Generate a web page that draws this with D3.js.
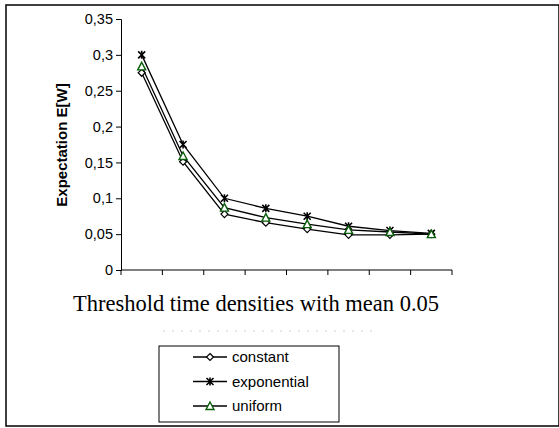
<!DOCTYPE html>
<html>
<head>
<meta charset="utf-8">
<script src="https://cdn.jsdelivr.net/npm/d3@7"></script>
<style>
  body { margin: 0; background: #fff; }
  svg { display: block; }
</style>
</head>
<body>
<div id="chart"></div>
<script>
// values
const categories = ["1", "2", "3", "4", "5", "6", "7", "8"]
const constant = [0.275, 0.151, 0.078, 0.066, 0.057, 0.049, 0.049, 0.050]
const exponential = [0.300, 0.175, 0.100, 0.086, 0.075, 0.061, 0.055, 0.051]
const uniform = [0.284, 0.159, 0.087, 0.073, 0.064, 0.056, 0.053, 0.050]
const yTicks = [0, 0.05, 0.1, 0.15, 0.2, 0.25, 0.3, 0.35]

const series = [
    {name: "constant", values: constant, marker: "diamond", color: "#000"},
    {name: "exponential", values: exponential, marker: "star", color: "#000"},
    {name: "uniform", values: uniform, marker: "triangle", color: "#0b5d0b"}
]

const width = 559, height = 428
const sans = "Arial, 'Liberation Sans', sans-serif"
const svg = d3.select("#chart").append("svg").attr("width", width).attr("height", height)

// outer frame
svg.append("rect").attr("x", 6).attr("y", 5).attr("width", 553).attr("height", 421)
    .attr("fill", "#fff").attr("stroke", "#000").attr("stroke-width", 1.5)

const x = d3.scaleBand().domain(categories).range([121, 452])
const y = d3.scaleLinear().domain([0, 0.35]).range([270, 19])
const fmt = d => d3.format("")(d).replace(".", ",")

const yAxis = svg.append("g").attr("transform", "translate(121,0)")
    .call(d3.axisLeft(y).tickValues(yTicks).tickFormat(fmt).tickSize(5).tickPadding(3))
yAxis.selectAll("text").style("font-family", sans)
    .style("font-size", "14.5px").attr("fill", "#000")
yAxis.selectAll("line,path").attr("stroke", "#000")

const xAxis = svg.append("g").attr("transform", "translate(0,270)")
    .call(d3.axisBottom(x).tickSize(0).tickFormat(""))
xAxis.select("path").attr("d", "M121,0H452").attr("stroke", "#000")
// boundary ticks between categories
xAxis.selectAll(".bt").data(d3.range(categories.length + 1)).enter().append("line")
    .attr("x1", i => 121 + i * x.step()).attr("x2", i => 121 + i * x.step())
    .attr("y1", 0).attr("y2", 5).attr("stroke", "#000")

// axis titles
svg.append("text").attr("transform", "translate(67,145) rotate(-90)")
    .attr("text-anchor", "middle")
    .style("font-family", sans).style("font-size", "15px")
    .style("font-weight", "bold").text("Expectation E[W]")

svg.append("text").attr("x", 256).attr("y", 311).attr("text-anchor", "middle")
    .style("font-family", "'Times New Roman', 'Liberation Serif', serif").style("font-size", "22.5px")
    .text("Threshold time densities with mean 0.05")

// faint hidden labels row
svg.append("line").attr("x1", 163).attr("x2", 376).attr("y1", 331).attr("y2", 331)
    .attr("stroke", "#cfcfcf").attr("stroke-dasharray", "2,7")

function marker(g, type, color) {
    if (type === "diamond") {
        g.append("path").attr("d", "M0,-3.5L3.5,0L0,3.5L-3.5,0Z")
            .attr("fill", "#fff").attr("stroke", color).attr("stroke-width", 1.2)
    } else if (type === "star") {
        g.append("path").attr("d", "M-3.5,-3.5L3.5,3.5M-3.5,3.5L3.5,-3.5M0,-4V4")
            .attr("stroke", color).attr("stroke-width", 1.6)
    } else {
        g.append("path").attr("d", "M0,-4L4,3.5L-4,3.5Z")
            .attr("fill", "#fff").attr("stroke", color).attr("stroke-width", 1.4)
    }
}

const cx = d => x(d) + x.bandwidth() / 2
const line = d3.line().x((d, i) => cx(categories[i])).y(d => y(d))

series.forEach(s => {
    svg.append("path").datum(s.values).attr("d", line)
        .attr("fill", "none").attr("stroke", "#000").attr("stroke-width", 1.3)
})
series.forEach(s => {
    s.values.forEach((v, i) => {
        const g = svg.append("g").attr("transform", `translate(${cx(categories[i])},${y(v)})`)
        marker(g, s.marker, s.color)
    })
})

// legend
const legend = svg.append("g")
legend.append("rect").attr("x", 159).attr("y", 346).attr("width", 180).attr("height", 76)
    .attr("fill", "#fff").attr("stroke", "#000").attr("stroke-width", 1)
series.forEach((s, i) => {
    const ly = 357 + i * 24.5
    legend.append("line").attr("x1", 193).attr("x2", 227).attr("y1", ly).attr("y2", ly)
        .attr("stroke", "#000").attr("stroke-width", 1.3)
    marker(legend.append("g").attr("transform", `translate(210,${ly})`), s.marker, s.color)
    legend.append("text").attr("x", 232).attr("y", ly + 5)
        .style("font-family", sans).style("font-size", "15px")
        .text(s.name)
})
</script>
</body>
</html>
